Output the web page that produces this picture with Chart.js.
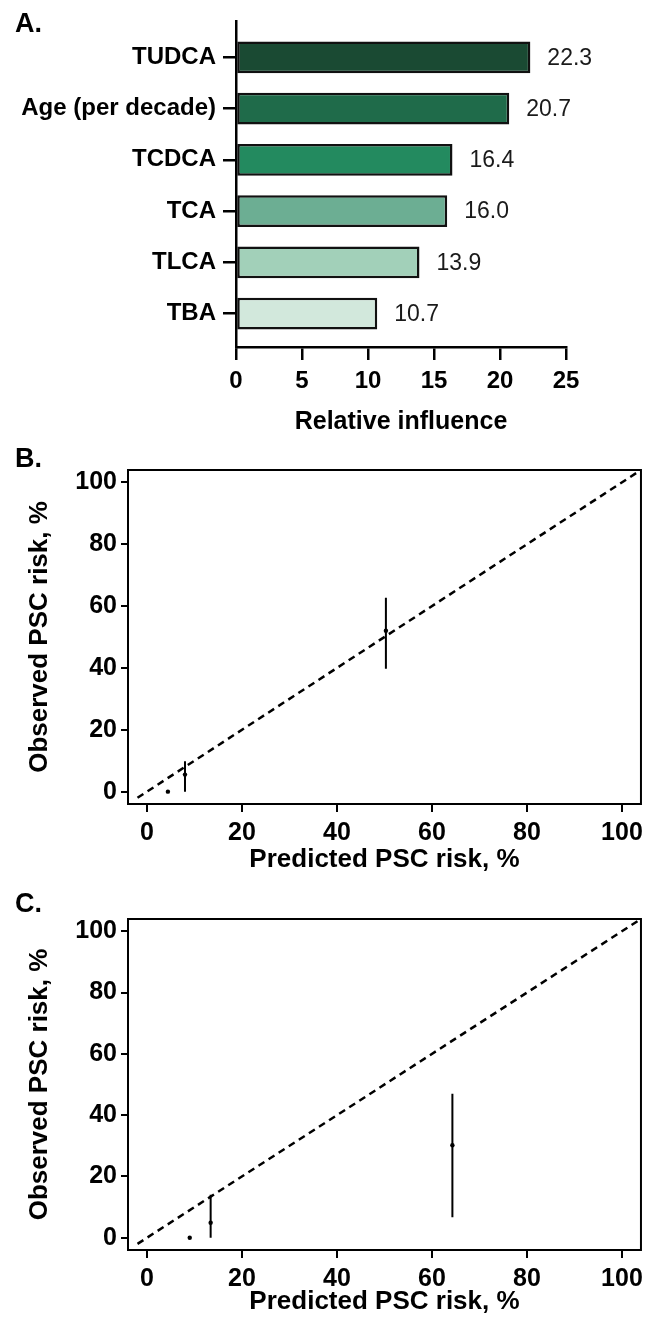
<!DOCTYPE html>
<html>
<head>
<meta charset="UTF-8">
<title>PSC risk model</title>
<script src="https://cdn.jsdelivr.net/npm/chart.js"></script>
<style>
body{margin:0;width:649px;height:1327px;background:#fff;position:relative;overflow:hidden;font-family:'Liberation Sans',Arial,sans-serif;}
.panel{position:absolute;left:0;width:649px;}
.lbl{position:absolute;left:15px;font-weight:bold;font-size:27px;line-height:27px;color:#000;}
</style>
<script>
// panel A - relative influence
var barLabels = ['TUDCA', 'Age (per decade)', 'TCDCA', 'TCA', 'TLCA', 'TBA'];
var barValues = [22.3, 20.7, 16.4, 16.0, 13.9, 10.7];
var xTicksA = [0, 5, 10, 15, 20, 25];
var barColors = ['#1a4a33', '#1f6b4a', '#238a5f', '#6cae93', '#a2d0b9', '#d2e8dc'];

// panels B and C - calibration
var riskTicks = [0, 20, 40, 60, 80, 100];
var refLine = [-2, 104];
var predB = [4.4, 8.0, 50.3];
var obsB = [0, 5.5, 52.0];
var lowB = [null, 0, 39.7];
var highB = [null, 9.8, 62.7];
var predC = [9.0, 13.4, 64.3];
var obsC = [0, 4.9, 30.2];
var lowC = [null, 0, 6.7];
var highC = [null, 14.0, 47.0];
</script>
</head>
<body>
<div class="panel" style="top:0;height:440px"><canvas id="chartA"></canvas></div>
<div class="panel" style="top:440px;height:440px"><canvas id="chartB"></canvas></div>
<div class="panel" style="top:880px;height:447px"><canvas id="chartC"></canvas></div>
<div class="lbl" style="top:10px">A.</div>
<div class="lbl" style="top:445px">B.</div>
<div class="lbl" style="top:890px">C.</div>
<script>
Chart.defaults.font.family = "'Liberation Sans', Arial, sans-serif";
Chart.defaults.color = '#000';
Chart.defaults.animation = false;

var valueLabels = {
	id: 'valueLabels',
	afterDatasetsDraw: function(chart){
		var ctx = chart.ctx;
		var meta = chart.getDatasetMeta(0);
		ctx.save();
		ctx.font = "23px 'Liberation Sans', Arial, sans-serif";
		ctx.fillStyle = '#1a1a1a';
		ctx.textBaseline = 'middle';
		meta.data.forEach(function(bar, i){
			ctx.fillText(barValues[i].toFixed(1), bar.x + 17, bar.y + 1);
		});
		ctx.restore();
	}
};

var frame = {
	id: 'frame',
	afterDatasetsDraw: function(chart){
		var a = chart.chartArea, ctx = chart.ctx;
		ctx.save();
		ctx.strokeStyle = '#000';
		ctx.lineWidth = 2;
		ctx.strokeRect(a.left, a.top, a.right - a.left, a.bottom - a.top);
		ctx.restore();
	}
};

new Chart(document.getElementById('chartA'), {
	type: 'bar',
	data: {
		datasets: [{
			data: barValues.map(function(v, i){ return {x: v, y: i}; }),
			backgroundColor: barColors,
			borderColor: '#111',
			borderWidth: 2.5,
			borderSkipped: false,
			categoryPercentage: 1,
			barPercentage: 0.62
		}]
	},
	options: {
		indexAxis: 'y',
		responsive: true,
		maintainAspectRatio: false,
		layout: {padding: {top: 15, right: 83, left: 0, bottom: 0}},
		plugins: {legend: {display: false}, tooltip: {enabled: false}},
		scales: {
			x: {
				type: 'linear', min: 0, max: 25,
				afterBuildTicks: function(s){ s.ticks = xTicksA.map(function(v){ return {value: v}; }); },
				afterFit: function(s){ s.height = 93; },
				ticks: {font: {size: 24, weight: 'bold'}, padding: 7, maxRotation: 0},
				grid: {drawOnChartArea: false, tickLength: 13, color: '#000', lineWidth: 2.5},
				border: {color: '#000', width: 2.5},
				title: {display: true, text: 'Relative influence', font: {size: 25, weight: 'bold'}, padding: {top: 0, bottom: 3}}
			},
			y: {
				type: 'linear', reverse: true, min: -0.7, max: 5.65, offset: false,
				afterBuildTicks: function(s){ s.ticks = barLabels.map(function(c, i){ return {value: i}; }); },
				afterFit: function(s){ s.width = 236; },
				ticks: {font: {size: 24, weight: 'bold'}, padding: 7, callback: function(v){ return barLabels[v]; }},
				grid: {offset: false, drawOnChartArea: false, tickLength: 13, color: '#000', lineWidth: 2.5},
				border: {color: '#000', width: 2.5}
			}
		}
	},
	plugins: [valueLabels]
});

function calib(id, pred, obs, low, high, topPad, xHeight, titlePad){
	var bars = [];
	pred.forEach(function(x, i){
		if (low[i] !== null) {
			bars.push({x: x, y: low[i]}, {x: x, y: high[i]}, {x: x, y: null});
		}
	});
	new Chart(document.getElementById(id), {
		type: 'scatter',
		data: {
			datasets: [
				{type: 'line', data: refLine.map(function(v){ return {x: v, y: v}; }), borderColor: '#000', borderWidth: 2.5, borderDash: [7, 5], pointRadius: 0, fill: false},
				{type: 'line', data: bars, borderColor: '#000', borderWidth: 2, pointRadius: 0, spanGaps: false, fill: false},
				{data: pred.map(function(x, i){ return {x: x, y: obs[i]}; }), pointRadius: 2.2, backgroundColor: '#000', borderWidth: 0}
			]
		},
		options: {
			responsive: true,
			maintainAspectRatio: false,
			layout: {padding: {top: topPad, right: 5, left: 0, bottom: 0}},
			plugins: {legend: {display: false}, tooltip: {enabled: false}},
			scales: {
				x: {
					type: 'linear', min: -4, max: 104,
					afterBuildTicks: function(s){ s.ticks = riskTicks.map(function(v){ return {value: v}; }); },
					afterFit: function(s){ s.height = xHeight; },
					ticks: {font: {size: 25, weight: 'bold'}, padding: 6, maxRotation: 0},
					grid: {drawOnChartArea: false, tickLength: 8, color: '#000', lineWidth: 2},
					border: {display: false},
					title: {display: true, text: 'Predicted PSC risk, %', font: {size: 26, weight: 'bold'}, padding: {top: 0, bottom: titlePad}}
				},
				y: {
					type: 'linear', min: -4, max: 104,
					afterBuildTicks: function(s){ s.ticks = riskTicks.map(function(v){ return {value: v}; }); },
					afterFit: function(s){ s.width = 128; },
					ticks: {font: {size: 25, weight: 'bold'}, padding: 4},
					grid: {drawOnChartArea: false, tickLength: 7, color: '#000', lineWidth: 2},
					border: {display: false},
					title: {display: true, text: 'Observed PSC risk, %', font: {size: 26, weight: 'bold'}, padding: {top: 24, bottom: 0}}
				}
			}
		},
		plugins: [frame]
	});
}

calib('chartB', predB, obsB, lowB, highB, 30, 76, 5);
calib('chartC', predC, obsC, lowC, highC, 39, 77, 10);
</script>
</body>
</html>
